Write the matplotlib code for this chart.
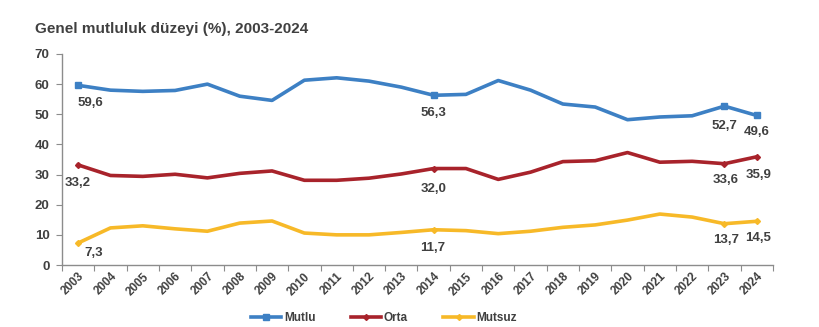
import matplotlib
matplotlib.use('Agg')
import matplotlib.pyplot as plt
import numpy as np

plt.rcParams['font.family'] = ['Liberation Sans', 'DejaVu Sans']

years = [str(y) for y in range(2003, 2025)]

mutlu = [59.6, 58.0, 57.6, 57.9, 60.0, 56.0, 54.6, 61.3, 62.1, 61.0, 59.0,
         56.3, 56.6, 61.2, 58.0, 53.4, 52.4, 48.2, 49.1, 49.5, 52.7, 49.6]
orta = [33.2, 29.7, 29.4, 30.1, 28.9, 30.4, 31.2, 28.1, 28.1, 28.8, 30.2,
        32.0, 32.0, 28.4, 30.8, 34.3, 34.6, 37.3, 34.1, 34.4, 33.6, 35.9]
mutsuz = [7.3, 12.3, 13.0, 12.0, 11.2, 13.9, 14.6, 10.6, 10.0, 10.0, 10.8,
          11.7, 11.4, 10.4, 11.2, 12.5, 13.3, 14.9, 16.9, 15.9, 13.7, 14.5]

# points that carry a value label
shown = [0, 11, 20, 21]

text_col = '#404040'
axis_col = '#8c8c8c'

fig = plt.figure(figsize=(8.2, 3.27), dpi=100)
ax = fig.add_axes([0.0756, 0.1896, 0.867, 0.6453])

x = np.arange(len(years))
series = [
    ('Mutlu', mutlu, '#3D80C4', 's', 5),
    ('Orta', orta, '#A8232B', 'D', 3),
    ('Mutsuz', mutsuz, '#F7B928', 'D', 3),
]
for name, vals, col, mk, ms in series:
    ax.plot(x, vals, color=col, lw=2.6, marker=mk, ms=ms, markevery=shown,
            solid_joinstyle='round', label=name)

# label offsets in points (dx, dy)
offsets = {
    'Mutlu': [(9, -13), (0, -13), (0, -14), (0, -12)],
    'Orta': [(0, -13), (0, -15), (1, -12), (1, -13)],
    'Mutsuz': [(11, -7), (-1, -13), (1, -12), (1, -12)],
}
for name, vals, col, mk, ms in series:
    for i, (dx, dy) in zip(shown, offsets[name]):
        ax.annotate(f'{vals[i]:.1f}'.replace('.', ','), (x[i], vals[i]),
                    xytext=(dx, dy), textcoords='offset points',
                    ha='center', va='center', fontsize=9.5,
                    fontweight='bold', color=text_col)

ax.set_xlim(-0.5, len(years) - 0.5)
ax.set_ylim(0, 70)
ax.set_yticks(range(0, 71, 10))
ax.set_xticks(np.arange(-0.5, len(years), 1), minor=False)
ax.set_xticklabels([])
ax.set_xticks(x, minor=True)
ax.set_xticklabels(years, minor=True, rotation=45, ha='right',
                   rotation_mode='anchor', fontsize=8.5, fontweight='bold',
                   color=text_col)
ax.tick_params(axis='x', which='minor', length=0, pad=4)
ax.tick_params(axis='x', which='major', length=4, color=axis_col)
ax.tick_params(axis='y', length=4, color=axis_col, labelsize=9.5,
               labelcolor=text_col, pad=5)
for lbl in ax.get_yticklabels():
    lbl.set_fontweight('bold')

for s in ['top', 'right']:
    ax.spines[s].set_visible(False)
for s in ['left', 'bottom']:
    ax.spines[s].set_color(axis_col)
    ax.spines[s].set_linewidth(1.0)

fig.text(0.043, 0.90, 'Genel mutluluk düzeyi (%), 2003-2024', fontsize=11,
         fontweight='bold', color=text_col)

leg = fig.legend(loc='center', bbox_to_anchor=(0.468, 0.027), ncol=3,
                 frameon=False, fontsize=8.5, handlelength=2.6,
                 columnspacing=3.0, handletextpad=0.2)
for t in leg.get_texts():
    t.set_color(text_col)
    t.set_fontweight('bold')

fig.savefig('out.png', dpi=100)
